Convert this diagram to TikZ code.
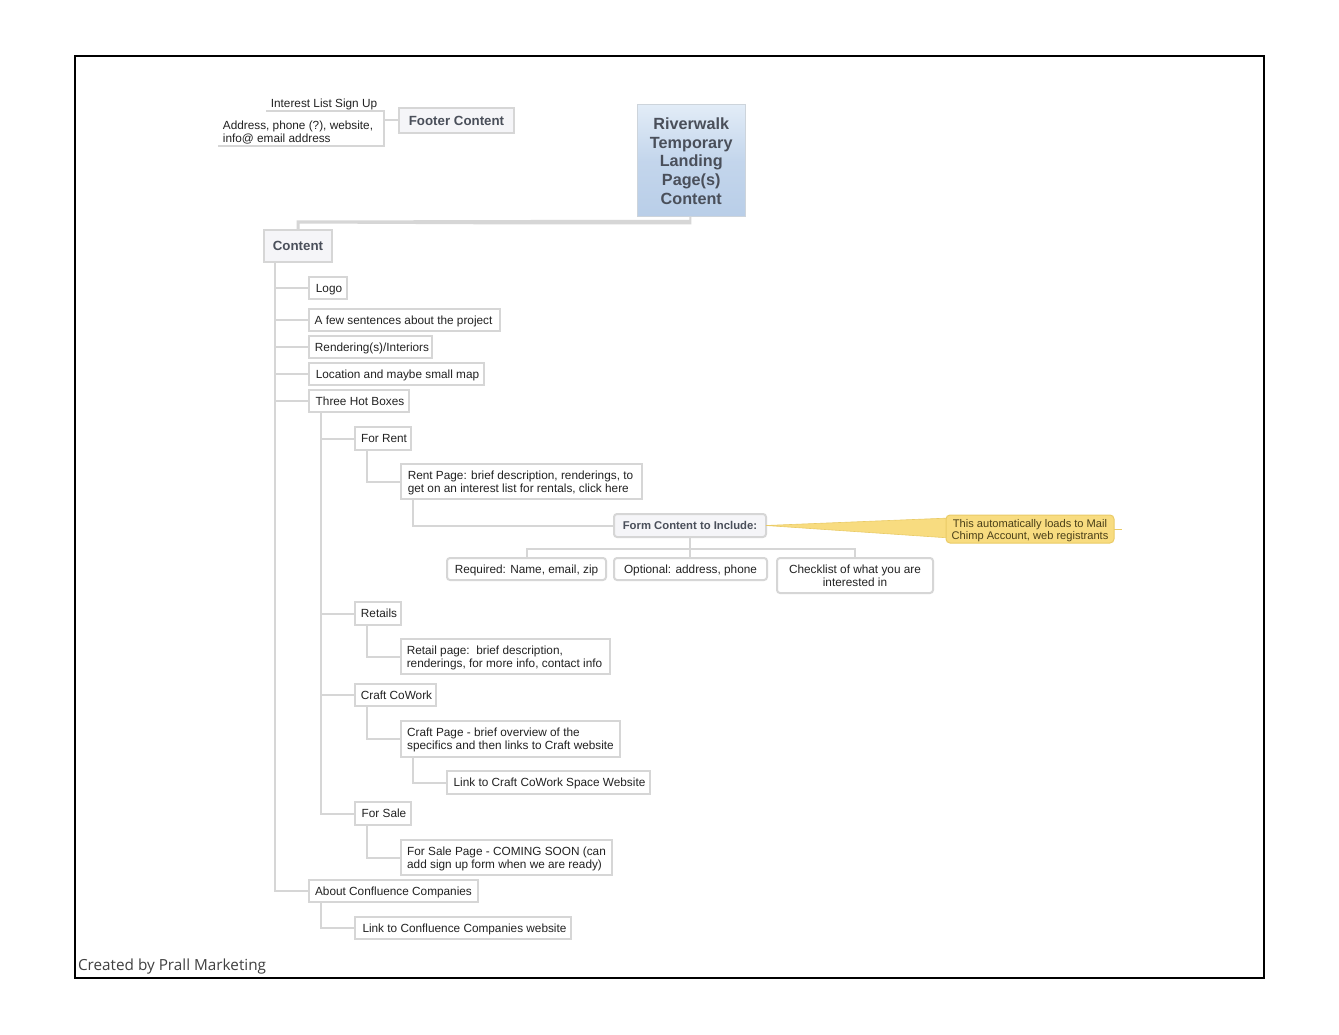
\documentclass[tikz,border=0pt]{standalone}
\usepackage{fontspec}
\setmainfont{Liberation Sans}
\newfontfamily\creditfont{Open Sans}
\usetikzlibrary{calc}
\definecolor{edgegrey}{HTML}{D6D6D6}
\definecolor{inktext}{HTML}{222222}
\definecolor{headtext}{HTML}{4A4F5A}
\definecolor{palefill}{HTML}{F5F5F8}
\definecolor{topblue}{HTML}{E2ECF7}
\definecolor{lowblue}{HTML}{B9CEE8}
\definecolor{noteyellow}{HTML}{F8DC80}
\definecolor{noteedge}{HTML}{EACB66}
\definecolor{notetext}{HTML}{4A3F18}
\tikzset{
  x=1pt,y=-1pt,
  every node/.style={inner sep=0pt,outer sep=0pt},
  plainbox/.style={draw=edgegrey,line width=2pt,fill=white,text=inktext,font=\fontsize{11.8}{13}\selectfont},
  softbox/.style={plainbox,rounded corners=3pt},
  headbox/.style={plainbox,fill=palefill,text=headtext,font=\fontsize{13.3}{15}\selectfont\bfseries},
  formbox/.style={softbox,fill=palefill,text=headtext,font=\fontsize{11.3}{13}\selectfont\bfseries},
  titlebox/.style={draw=edgegrey!70!lowblue,line width=1pt,top color=topblue,bottom color=lowblue,middle color=lowblue!75!topblue,text=headtext,align=center,font=\fontsize{16.2}{18.7}\selectfont\bfseries},
  notebox/.style={draw=noteedge,line width=1pt,fill=noteyellow,rounded corners=4pt,text=notetext,font=\fontsize{11.1}{12}\selectfont},
  bare/.style={text=inktext,font=\fontsize{11.8}{13}\selectfont},
  link/.style={draw=edgegrey,line width=2pt,line join=miter},
}
\newcommand{\bx}[7]{%
  \pgfmathsetmacro{\bxw}{#4-#2}\pgfmathsetmacro{\bxh}{#5-#3}%
  \pgfmathsetmacro{\bxx}{(#4+#2)/2}\pgfmathsetmacro{\bxy}{(#5+#3)/2}%
  \node[#6,minimum width=\bxw pt,minimum height=\bxh pt] (#1) at (\bxx,\bxy) {#7};}
% text lines nudged to the reference's optical position
\newcommand{\tl}[2][2pt]{\raisebox{-4.8pt}[0pt][0pt]{\hspace*{#1}\begin{tabular}{@{}l@{}}#2\end{tabular}}}
\newcommand{\tc}[1]{\raisebox{-4.8pt}[0pt][0pt]{\begin{tabular}{@{}c@{}}#1\end{tabular}}}
\begin{document}
\begin{tikzpicture}
\useasboundingbox (0,0) rectangle (1339,1035);
\fill[white] (0,0) rectangle (1339,1035);
\draw[black,line width=2.8pt] (75,56) rectangle (1264,978);

% nodes
\bx{title}{637.5}{105}{745}{217}{titlebox}{Riverwalk\\Temporary\\Landing\\Page(s)\\Content}
\bx{footer}{399}{108}{514}{133}{headbox}{Footer Content}
\bx{interest}{266}{96}{384}{111}{bare}{\tl[-2pt]{Interest List Sign Up}}
\bx{address}{218}{117}{384}{146}{bare}{\tl[-6pt]{Address, phone (?), website,\\info@ email address}}
\bx{content}{264}{230}{332}{262}{headbox}{Content}
\bx{logo}{309}{277}{347}{299}{plainbox}{\tl{Logo}}
\bx{few}{309}{309}{500}{331}{plainbox}{\tl[-2pt]{A few sentences about the project}}
\bx{rendering}{309}{336}{432}{358}{plainbox}{\tl[3pt]{Rendering(s)/Interiors}}
\bx{location}{309}{363}{484}{385}{plainbox}{\tl{Location and maybe small map}}
\bx{three}{309}{390}{409}{412}{plainbox}{\tl{Three Hot Boxes}}
\bx{forrent}{355}{427}{411}{450}{plainbox}{\tl{For Rent}}
\bx{rentpage}{401}{464}{642}{499}{plainbox}{\tl[-2pt]{Rent Page: brief description, renderings, to\\get on an interest list for rentals, click here}}
\bx{form}{614}{514}{766}{537}{formbox}{Form Content to Include:}
\bx{required}{447}{558}{606}{580}{softbox}{\tc{Required: Name, email, zip}}
\bx{optional}{614}{558}{767}{580}{softbox}{\tc{Optional: address, phone}}
\bx{checklist}{777}{558}{933}{593}{softbox}{\tc{Checklist of what you are\\interested in}}
\bx{retails}{355}{602}{401}{625}{plainbox}{\tl{Retails}}
\bx{retailpage}{401}{639}{610}{674}{plainbox}{\tl[-2pt]{Retail page:\ \ brief description,\\renderings, for more info, contact info}}
\bx{craft}{355}{684}{436}{706}{plainbox}{\tl{Craft CoWork}}
\bx{craftpage}{401}{721}{620}{757}{plainbox}{\tl[0pt]{Craft Page - brief overview of the\\specifics and then links to Craft website}}
\bx{craftlink}{447}{771}{650}{794}{plainbox}{\tl{Link to Craft CoWork Space Website}}
\bx{forsale}{355}{802}{411}{825}{plainbox}{\tl{For Sale}}
\bx{salepage}{401}{840}{612}{875}{plainbox}{\tl[0pt]{For Sale Page - COMING SOON (can\\add sign up form when we are ready)}}
\bx{about}{309}{880}{478}{902}{plainbox}{\tl[0pt]{About Confluence Companies}}
\bx{conflink}{355}{917}{571}{939}{plainbox}{\tl[3pt]{Link to Confluence Companies website}}

% yellow callout
\fill[noteyellow,draw=noteedge,line width=.6pt] (form.east) -- (950,518) -- (950,538) -- cycle;
\draw[noteedge,line width=1pt] (1114,529) -- (1122,529);
\bx{note}{946}{515}{1114}{543}{notebox}{\tc{This automatically loads to Mail\\Chimp Account, web registrants}}

% connectors
\fill[edgegrey] (title.south) -- ++(0,7.5) -- ++(-160,0) -- ($(content.north)+(1.5,-6.5)$) -- ($(content.north)+(1.5,0)$) -- ($(content.north)+(-1.5,0)$) -- ($(content.north)+(-1.5,-9.5)$) -- ($(title.south)+(-160,3)$) -- ($(title.south)+(-2,3)$) -- ($(title.south)+(-2,0)$) -- cycle;
\draw[link] (footer.west) -- (address.east |- footer.west);
\draw[link] (interest.south west) -- (interest.south east) -- (address.south east) -- (address.south west);
\coordinate (cs) at ($(content.south west)+(11,0)$);
\foreach \t in {logo,few,rendering,location,three,about} \draw[link] (cs) |- (\t.west);
\coordinate (ts) at ($(three.south west)+(12,0)$);
\foreach \t in {forrent,retails,craft,forsale} \draw[link] (ts) |- (\t.west);
\draw[link] ($(forrent.south west)+(12,0)$) |- (rentpage.west);
\draw[link] ($(rentpage.south west)+(12,0)$) |- (form.west);
\draw[link] ($(retails.south west)+(12,0)$) |- (retailpage.west);
\draw[link] ($(craft.south west)+(12,0)$) |- (craftpage.west);
\draw[link] ($(craftpage.south west)+(12,0)$) |- (craftlink.west);
\draw[link] ($(forsale.south west)+(12,0)$) |- (salepage.west);
\draw[link] ($(about.south west)+(12,0)$) |- (conflink.west);
\coordinate (fb) at (form.south |- 0,549);
\draw[link] (form.south) -- (fb);
\draw[link] (fb) -| (required.north);
\draw[link] (fb) -| (checklist.north);
\draw[link] (fb) -- (optional.north -| fb);

% credit line
\node[anchor=base west,text=black!75,font=\creditfont\fontsize{15.3}{17}\selectfont] (credit) at (78,970) {Created by Prall Marketing};
\end{tikzpicture}
\end{document}
